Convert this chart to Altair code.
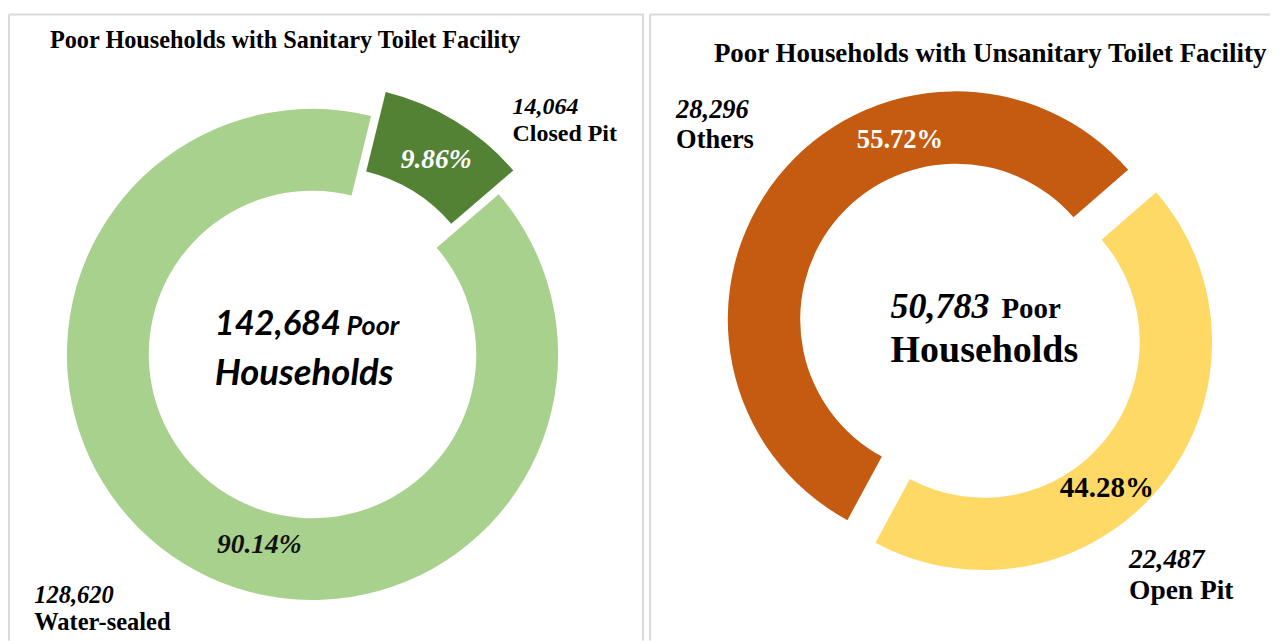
import math
import altair as alt
import pandas as pd

# ---------------- data ----------------
san_title = "Poor Households with Sanitary Toilet Facility"
san_cats = ["Closed Pit", "Water-sealed"]
san_vals = [14064, 128620]
san_colors = ["#548235", "#A9D18E"]

unsan_title = "Poor Households with Unsanitary Toilet Facility"
unsan_cats = ["Open Pit", "Others"]
unsan_vals = [22487, 28296]
unsan_colors = ["#FFD966", "#C55A11"]

SERIF = "Liberation Serif"
SANS = "Lato"
BORDER = "#D9D9D9"


def base_chart(cats, vals, start_deg, cx, cy, explode):
    total = sum(vals)
    a0 = math.radians(start_deg)
    df = pd.DataFrame({"cat": cats, "value": vals, "order": list(range(len(cats)))})
    ex_expr = " : ".join(f"datum.cat == '{c}' ? {e}" for c, e in explode.items()) + " : 0"
    return (
        alt.Chart(df)
        .transform_window(cum="sum(value)", sort=[alt.SortField("order")])
        .transform_calculate(
            start="datum.cum - datum.value",
            mid=f"{a0} + 2*PI*(datum.cum - datum.value/2)/{total}",
            share=f"datum.value/{total}",
            ex=ex_expr,
        )
        .transform_calculate(
            cx=f"{cx} + datum.ex*sin(datum.mid)",
            cy=f"{cy} - datum.ex*cos(datum.mid)",
            pct="format(datum.share, '.2%')",
            vlab="format(datum.value, ',')",
        )
    ), total, a0


def panel(cats, vals, colors, title, start_deg, cx, cy, R, r, explode,
          pct_style, out_style, title_pos, center_style, W, H, left_border):
    base, total, a0 = base_chart(cats, vals, start_deg, cx, cy, explode)
    rm = (R + r) / 2
    base = base.transform_calculate(
        lx=f"datum.cx + {rm}*sin(datum.mid)",
        ly=f"datum.cy - {rm}*cos(datum.mid)",
        ox=f"datum.cx + {R}*sin(datum.mid)",
        oy=f"datum.cy - {R}*cos(datum.mid)",
    )
    layers = []
    arcs = base.mark_arc(innerRadius=r, outerRadius=R).encode(
        theta=alt.Theta("start:Q", scale=alt.Scale(domain=[0, total], range=[a0, a0 + 2 * math.pi])),
        theta2="cum:Q",
        x=alt.X("cx:Q", scale=None, axis=None),
        y=alt.Y("cy:Q", scale=None, axis=None),
        color=alt.Color("cat:N", scale=alt.Scale(domain=cats, range=colors), legend=None),
    )
    layers.append(arcs)
    for c in cats:
        st = pct_style[c]
        layers.append(
            base.transform_filter(f"datum.cat == '{c}'")
            .mark_text(font=SERIF, fontWeight="bold", fontStyle=st["style"], fontSize=st["size"],
                       color=st["color"], align="center", baseline="alphabetic",
                       dx=st["dx"], dy=st["dy"])
            .encode(x=alt.X("lx:Q", scale=None, axis=None), y=alt.Y("ly:Q", scale=None, axis=None),
                    text="pct:N")
        )
        os_ = out_style[c]
        layers.append(
            base.transform_filter(f"datum.cat == '{c}'")
            .mark_text(font=SERIF, fontWeight="bold", fontStyle="italic", fontSize=os_["size"],
                       color="#000000", align="left", baseline="alphabetic",
                       dx=os_["dx"], dy=os_["dy1"])
            .encode(x=alt.X("ox:Q", scale=None, axis=None), y=alt.Y("oy:Q", scale=None, axis=None),
                    text="vlab:N")
        )
        layers.append(
            base.transform_filter(f"datum.cat == '{c}'")
            .mark_text(font=SERIF, fontWeight="bold", fontSize=os_["size"],
                       color="#000000", align="left", baseline="alphabetic",
                       dx=os_["dx"], dy=os_["dy2"])
            .encode(x=alt.X("ox:Q", scale=None, axis=None), y=alt.Y("oy:Q", scale=None, axis=None),
                    text="cat:N")
        )
    one = alt.Data(values=[{"k": 1}])
    # title
    layers.append(
        alt.Chart(one).mark_text(font=SERIF, fontWeight="bold", fontSize=title_pos["size"],
                                 align="left", baseline="alphabetic", color="#000000")
        .encode(x=alt.value(title_pos["x"]), y=alt.value(title_pos["y"]), text=alt.value(title))
    )
    # center text
    cs = center_style
    layers.append(
        alt.Chart(one).mark_text(font=cs["font"], fontWeight="bold", fontStyle="italic", fontSize=cs["num"],
                                 align="left", baseline="alphabetic", color="#000000")
        .encode(x=alt.value(cs["x"]), y=alt.value(cs["y1"]), text=alt.value(f"{total:,}"))
    )
    layers.append(
        alt.Chart(one).mark_text(font=cs["font"], fontWeight="bold", fontStyle=cs["poor_style"],
                                 fontSize=cs["small"], align="left", baseline="alphabetic", color="#000000")
        .encode(x=alt.value(cs["px"]), y=alt.value(cs["y1"]), text=alt.value("Poor"))
    )
    layers.append(
        alt.Chart(one).mark_text(font=cs["font"], fontWeight="bold", fontStyle=cs["poor_style"],
                                 fontSize=cs["big"], align="left", baseline="alphabetic", color="#000000")
        .encode(x=alt.value(cs["x"]), y=alt.value(cs["y2"]), text=alt.value("Households"))
    )
    # panel frame
    layers.append(
        alt.Chart(one).mark_rule(color=BORDER, strokeWidth=2)
        .encode(x=alt.value(1), x2=alt.value(W), y=alt.value(1))
    )
    layers.append(
        alt.Chart(one).mark_rule(color=BORDER, strokeWidth=2)
        .encode(x=alt.value(1), y=alt.value(1), y2=alt.value(H))
    )
    if not left_border:
        layers.append(
            alt.Chart(one).mark_rule(color=BORDER, strokeWidth=2)
            .encode(x=alt.value(W - 1), y=alt.value(1), y2=alt.value(H))
        )
    return alt.layer(*layers).properties(width=W, height=H)


H = 628
left = panel(
    san_cats, san_vals, san_colors, san_title,
    start_deg=13.8, cx=305, cy=341.5, R=246, r=164,
    explode={"Closed Pit": 28},
    pct_style={
        "Closed Pit": {"style": "italic", "size": 27.5, "color": "#FFFFFF", "dx": 2, "dy": 12},
        "Water-sealed": {"style": "italic", "size": 27.5, "color": "#111111", "dx": 54, "dy": 24},
    },
    out_style={
        "Closed Pit": {"size": 24, "dx": 57, "dy1": -7, "dy2": 20},
        "Water-sealed": {"size": 24.5, "dx": -150, "dy1": 39, "dy2": 66},
    },
    title_pos={"x": 42, "y": 35, "size": 24.3},
    center_style={"font": SANS, "num": 34.5, "big": 36.5, "small": 27, "x": 207, "px": 339,
                  "y1": 322, "y2": 372, "poor_style": "italic"},
    W=637, H=H, left_border=False,
)

right = panel(
    unsan_cats, unsan_vals, unsan_colors, unsan_title,
    start_deg=49.0, cx=321.5, cy=317.75, R=228.5, r=156,
    explode={"Open Pit": 18, "Others": 18},
    pct_style={
        "Open Pit": {"style": "normal", "size": 29, "color": "#000000", "dx": -27, "dy": 35},
        "Others": {"style": "normal", "size": 26.6, "color": "#FFFFFF", "dx": 94, "dy": -52},
    },
    out_style={
        "Open Pit": {"size": 27.5, "dx": -33, "dy1": 83, "dy2": 115},
        "Others": {"size": 26.5, "dx": -102, "dy1": -59, "dy2": -29},
    },
    title_pos={"x": 65, "y": 49, "size": 27},
    center_style={"font": SERIF, "num": 36, "big": 38, "small": 29, "x": 242, "px": 353,
                  "y1": 305, "y2": 349, "poor_style": "normal"},
    W=622, H=H, left_border=True,
)

chart = (
    alt.hconcat(left, right, spacing=4)
    .resolve_scale(color="independent", theta="independent")
    .properties(padding={"left": 0, "top": 5, "right": 0, "bottom": 0})
    .configure_view(strokeWidth=0)
)

chart.save("out.html", embed_options={"renderer": "svg", "actions": False})
